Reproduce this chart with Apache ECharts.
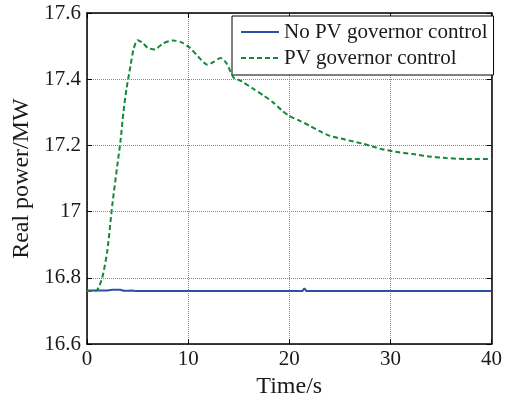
<!DOCTYPE html>
<html>
<head>
<meta charset="utf-8">
<script src="https://cdn.jsdelivr.net/npm/echarts@6/dist/echarts.min.js"></script>
<style>html,body{margin:0;padding:0;background:#fff;}#c{width:505px;height:404px;}</style>
</head>
<body>
<div id="c"></div>
<script>
var seriesNames = ['No PV governor control', 'PV governor control'];
var xTicks = [0, 10, 20, 30, 40];
var yTicks = [16.6, 16.8, 17, 17.2, 17.4, 17.6];

var noPvTime = [0, 2.0, 2.5, 3.3, 3.6, 4.2, 4.5, 4.8, 21.3, 21.5, 21.7, 40];
var noPvPower = [16.762, 16.762, 16.764, 16.764, 16.761, 16.761, 16.762, 16.760, 16.760, 16.768, 16.760, 16.760];

var pvTime = [0, 0.5, 1.0, 1.5, 2.0, 2.5, 3.0, 3.3, 3.6, 3.9, 4.3, 4.6, 5.0, 5.5, 6.0, 6.7, 7.5, 8.5, 9.3, 10.2, 11.0, 11.9, 12.5, 13.2, 13.8, 14.5, 15.2, 16.4, 17.5, 18.4, 19.3, 20.0, 21.0, 22.0, 23.0, 24.0, 25.5, 27.3, 29.0, 30.5, 32.2, 34.0, 35.5, 37.5, 40];
var pvPower = [16.760, 16.760, 16.763, 16.80, 16.88, 17.02, 17.14, 17.21, 17.30, 17.37, 17.44, 17.49, 17.518, 17.51, 17.495, 17.490, 17.508, 17.517, 17.512, 17.494, 17.468, 17.444, 17.452, 17.464, 17.448, 17.405, 17.395, 17.372, 17.350, 17.330, 17.305, 17.289, 17.275, 17.260, 17.243, 17.229, 17.218, 17.205, 17.190, 17.181, 17.174, 17.166, 17.162, 17.159, 17.159];

function pairs(xs, ys) { return xs.map(function (x, i) { return [x, ys[i]]; }); }

var font = "'Liberation Serif', 'Times New Roman', serif";
var chart = echarts.init(document.getElementById('c'), null, {renderer: 'canvas'});
var baseX = {
  type: 'value', min: xTicks[0], max: xTicks[xTicks.length - 1], interval: 10,
  axisLine: {show: true, onZero: false, lineStyle: {color: '#000', width: 1.5}},
  axisTick: {show: true, inside: true, length: 5, lineStyle: {color: '#000'}},
};
var baseY = {
  type: 'value', min: yTicks[0], max: yTicks[yTicks.length - 1], interval: 0.2,
  axisLine: {show: true, onZero: false, lineStyle: {color: '#000', width: 1.5}},
  axisTick: {show: true, inside: true, length: 5, lineStyle: {color: '#000'}},
};
chart.setOption({
  animation: false,
  backgroundColor: '#fff',
  grid: {left: 87, top: 13, right: 13, bottom: 58},
  legend: {
    orient: 'vertical', left: 232, top: 16,
    padding: [5, 6, 6, 8], itemGap: 4, itemWidth: 38, itemHeight: 14,
    backgroundColor: '#fff', borderColor: '#000', borderWidth: 1, borderRadius: 0,
    itemStyle: {opacity: 0},
    textStyle: {fontFamily: font, fontSize: 21, color: '#1a1a1a', lineHeight: 22},
    data: seriesNames
  },
  xAxis: [
    Object.assign({}, baseX, {
      position: 'bottom',
      name: 'Time/s', nameLocation: 'middle', nameGap: 25,
      nameTextStyle: {fontFamily: font, fontSize: 24, color: '#1a1a1a'},
      axisLabel: {fontFamily: font, fontSize: 21, color: '#1a1a1a', margin: 5,
        formatter: function (v) { return String(v); }},
      splitLine: {show: true, lineStyle: {color: '#888', type: 'dotted', width: 1}}
    }),
    Object.assign({}, baseX, {position: 'top', axisLabel: {show: false}, splitLine: {show: false}})
  ],
  yAxis: [
    Object.assign({}, baseY, {
      position: 'left',
      name: 'Real power/MW', nameLocation: 'middle', nameGap: 52, nameRotate: 90,
      nameTextStyle: {fontFamily: font, fontSize: 24, color: '#1a1a1a'},
      axisLabel: {fontFamily: font, fontSize: 21, color: '#1a1a1a', margin: 6,
        formatter: function (v) { return String(Math.round(v * 10) / 10); }},
      splitLine: {show: true, lineStyle: {color: '#888', type: 'dotted', width: 1}}
    }),
    Object.assign({}, baseY, {position: 'right', axisLabel: {show: false}, splitLine: {show: false}})
  ],
  series: [
    {
      name: seriesNames[0], type: 'line', symbol: 'none', z: 3,
      data: pairs(noPvTime, noPvPower),
      lineStyle: {color: '#2e4fa6', width: 2},
      itemStyle: {color: '#2e4fa6'}
    },
    {
      name: seriesNames[1], type: 'line', symbol: 'none', smooth: 0.25, z: 4,
      data: pairs(pvTime, pvPower),
      lineStyle: {color: '#13883a', width: 2, type: [5, 3]},
      itemStyle: {color: '#13883a'}
    }
  ]
});
</script>
</body>
</html>
